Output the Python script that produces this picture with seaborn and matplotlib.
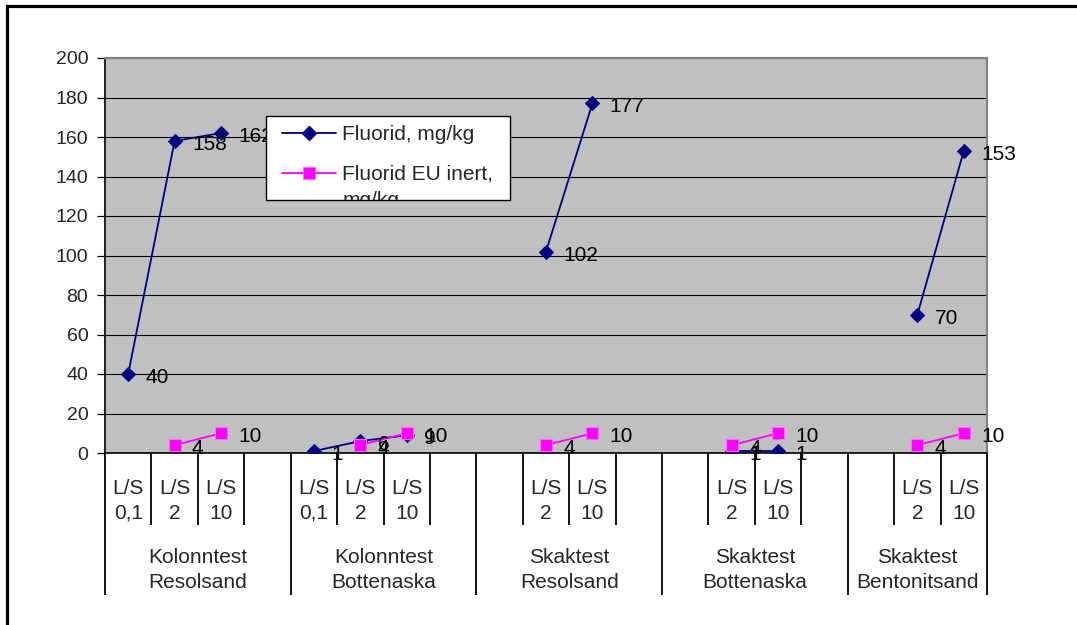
import numpy as np
import pandas as pd
import matplotlib
matplotlib.use("Agg")
import matplotlib.pyplot as plt
from matplotlib.lines import Line2D
from matplotlib.patches import Rectangle
import seaborn as sns

# ---- data -------------------------------------------------------------
groups = ["Kolonntest\nResolsand", "Kolonntest\nBottenaska", "Skaktest\nResolsand",
          "Skaktest\nBottenaska", "Skaktest\nBentonitsand"]
sub_labels = [
    "L/S\n0,1", "L/S\n2", "L/S\n10", "",
    "L/S\n0,1", "L/S\n2", "L/S\n10", "",
    "", "L/S\n2", "L/S\n10", "",
    "", "L/S\n2", "L/S\n10", "",
    "", "L/S\n2", "L/S\n10",
]
group_of_cat = [0] * 4 + [1] * 4 + [2] * 4 + [3] * 4 + [4] * 3
nan = np.nan
fluorid = [40, 158, 162, nan, 1, 6, 9, nan, nan, 102, 177, nan,
           nan, 1, 1, nan, nan, 70, 153]
eu_inert = [nan, 4, 10, nan, nan, 4, 10, nan, nan, 4, 10, nan,
            nan, 4, 10, nan, nan, 4, 10]
series_names = ["Fluorid, mg/kg", "Fluorid EU inert,"]
y_ticks = list(range(0, 201, 20))

# ---- style ------------------------------------------------------------
sns.set_style("white")
plt.rcParams["font.family"] = ["Liberation Sans", "DejaVu Sans"]
FS = 15
FS_Y = 14
NAVY = "#000080"
MAGENTA = "#FF00FF"

W, H = 1077, 625
fig = plt.figure(figsize=(W / 100, H / 100), dpi=100)
fig.patch.set_facecolor("white")
ax = fig.add_axes([105 / W, 1 - 453 / H, (987 - 105) / W, (453 - 58) / H])
ax.set_facecolor("#C0C0C0")

pos = np.arange(len(sub_labels))
df = pd.DataFrame({"pos": pos, "grp": group_of_cat,
                   "fluorid": fluorid, "eu": eu_inert})

sns.lineplot(data=df, x="pos", y="fluorid", units="grp", estimator=None,
             color=NAVY, lw=1.3, marker="D", markersize=7.5,
             markeredgecolor=NAVY, ax=ax, zorder=3, legend=False)
sns.lineplot(data=df, x="pos", y="eu", units="grp", estimator=None,
             color=MAGENTA, lw=1.3, marker="s", markersize=9,
             markerfacecolor=MAGENTA, markeredgecolor="#FF66FF",
             markeredgewidth=0.8, ax=ax, zorder=3, legend=False)

# value labels
for col in ["fluorid", "eu"]:
    for x, v in zip(df["pos"], df[col]):
        if np.isnan(v):
            continue
        ax.annotate(f"{v:g}", xy=(x, v), xytext=(12.5, -2.5),
                    textcoords="offset points", ha="left", va="center",
                    fontsize=FS, color="black", zorder=4,
                    annotation_clip=False)

# ---- y axis -----------------------------------------------------------
ax.set_ylim(0, 200)
ax.set_yticks(y_ticks)
ax.yaxis.grid(True, color="black", lw=0.8)
ax.set_axisbelow(True)
ax.tick_params(axis="y", direction="out", length=6, width=0.9,
               color="black", labelsize=FS_Y, pad=6, left=True)
ax.set_ylabel("")

# ---- multi-level category axis ---------------------------------------
ax.set_xlim(-0.5, len(sub_labels) - 0.5)
ax.set_xlabel("")
ax.set_xticks(pos, sub_labels)
ax.tick_params(axis="x", which="major", length=0, labelsize=FS, pad=18.5)
for t in ax.get_xticklabels():
    t.set_linespacing(1.4)

group_edges = [-0.5, 3.5, 7.5, 11.5, 15.5, 18.5]
inner_edges = [b for b in np.arange(0.5, 18.5, 1.0) if b not in group_edges]
ax.set_xticks(inner_edges, minor=True)
ax.tick_params(axis="x", which="minor", direction="out", length=52,
               width=1.3, color="black", bottom=True)

group_centers = [(group_edges[i] + group_edges[i + 1]) / 2 for i in range(len(groups))]
sec = ax.secondary_xaxis("bottom")
sec.set_xticks(group_edges, labels=[""] * len(group_edges))
sec.set_xticks(group_centers, labels=groups, minor=True)
sec.tick_params(axis="x", which="major", direction="out", length=102,
                width=1.3, color="black")
sec.tick_params(axis="x", which="minor", length=0, labelsize=FS, pad=68.5)
for t in sec.get_xticklabels(minor=True):
    t.set_linespacing(1.38)
sec.spines["bottom"].set_visible(False)

for side in ["left", "bottom"]:
    ax.spines[side].set_color("black")
    ax.spines[side].set_linewidth(1.2)
for side in ["top", "right"]:
    ax.spines[side].set_color("#808080")
    ax.spines[side].set_linewidth(1.5)

# ---- legend with its own clipped frame --------------------------------
frame = Rectangle((266 / W, 1 - 200 / H), (510 - 266) / W, (200 - 116) / H,
                  transform=fig.transFigure, facecolor="white",
                  edgecolor="black", lw=1.0, zorder=4)
fig.add_artist(frame)

handles = [
    Line2D([], [], color=NAVY, lw=1.3, marker="D", markersize=7.5,
           markeredgecolor=NAVY),
    Line2D([], [], color=MAGENTA, lw=1.3, marker="s", markersize=9,
           markerfacecolor=MAGENTA, markeredgecolor="#FF66FF",
           markeredgewidth=0.8),
]
leg = fig.legend(handles, series_names, loc="upper left",
                 bbox_to_anchor=(282 / W, 1 - 125 / H),
                 bbox_transform=fig.transFigure, frameon=False,
                 fontsize=FS, handlelength=2.6, handletextpad=0.3,
                 labelspacing=1.0, borderpad=0, borderaxespad=0)
leg.set_zorder(5)

wrap = fig.text(343 / W, 1 - 201 / H, "mg/kg", fontsize=FS,
                ha="left", va="center", zorder=5)
wrap.set_clip_path(frame)

# outer chart border
border = Rectangle((6.5 / W, -0.1), 1.2, 1.1 - 6.5 / H,
                   transform=fig.transFigure, fill=False,
                   edgecolor="black", lw=2.3, zorder=6, clip_on=False)
fig.add_artist(border)

fig.savefig("out.png", dpi=100)
